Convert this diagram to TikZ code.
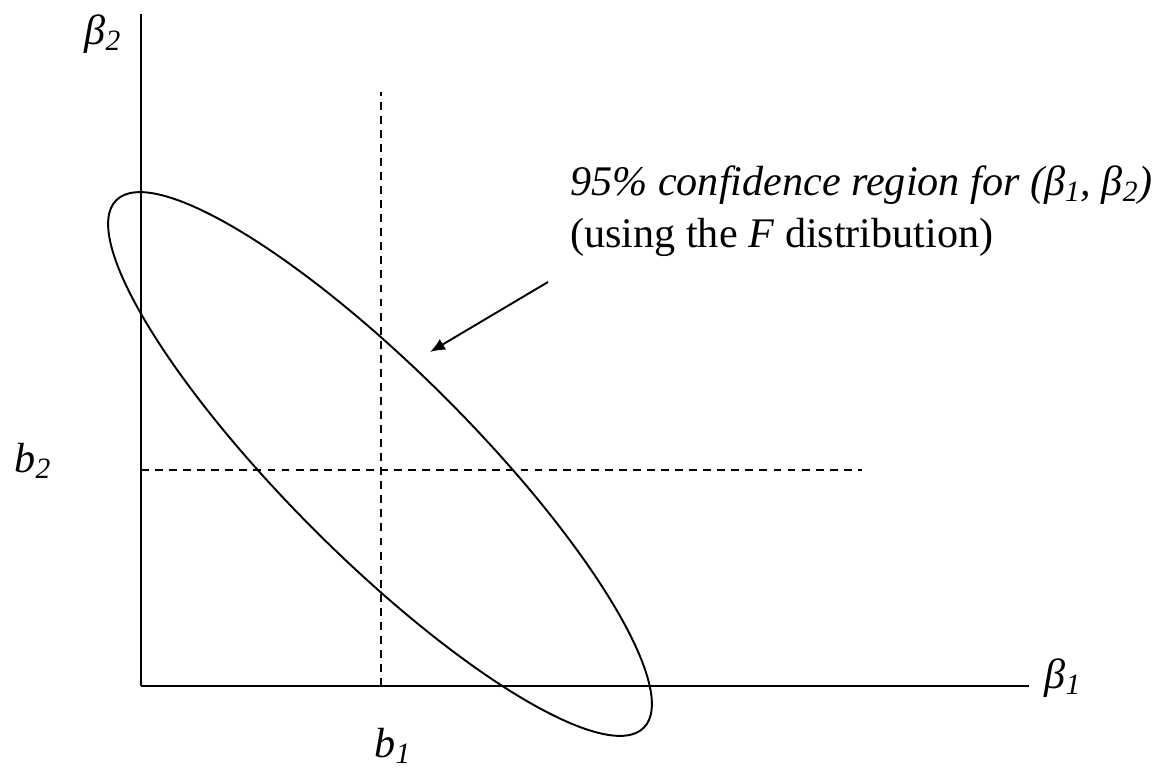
\documentclass[tikz,border=0pt]{standalone}
\usepackage{fontspec}
\setmainfont{Liberation Serif}
\usetikzlibrary{arrows.meta, math}

\begin{document}
\begin{tikzpicture}[x=0.02cm, y=0.02cm, every node/.style={font=\fontsize{24}{29.6}\selectfont}]
\tikzmath{
\bx=240; \by=216;
}
\useasboundingbox (-141,-82) rectangle (1017,686);

\coordinate (O) at (0,0);
\coordinate (X) at (888,0);
\coordinate (Y) at (0,672);
\coordinate (C) at (239,222);

\draw[line width=1.1] (O) -- (X);
\draw[line width=1.1] (O) -- (Y);

\node (beta1) at (922,8) {\textit{β\textsubscript{1}}};
\node (beta2) at (-38,652) {\textit{β\textsubscript{2}}};
\node (b1) at (252,-60) {\textit{b\textsubscript{1}}};
\node (b2) at (-108,225) {\textit{b\textsubscript{2}}};

\draw[dashed, dash pattern=on 4.5pt off 3.5pt, line width=1.1] (\bx,0) -- (\bx,594);
\draw[dashed, dash pattern=on 4.5pt off 3.5pt, line width=1.1] (0,\by) -- (721,\by);

\draw[line width=1.1, rotate around={-45:(C)}] (C) ellipse [x radius=373, y radius=93];

\node[anchor=west, align=left, inner sep=0pt] (region) at (429,475) {\textit{95\% confidence region for (β\textsubscript{1}, β\textsubscript{2})}\\(using the \textit{F} distribution)};

\coordinate (tail) at (407,404);
\coordinate (tip) at (289,334);
\draw[-{Latex[length=8.5pt, width=7pt]}, line width=1.1] (tail) -- (tip);

\end{tikzpicture}
\end{document}
